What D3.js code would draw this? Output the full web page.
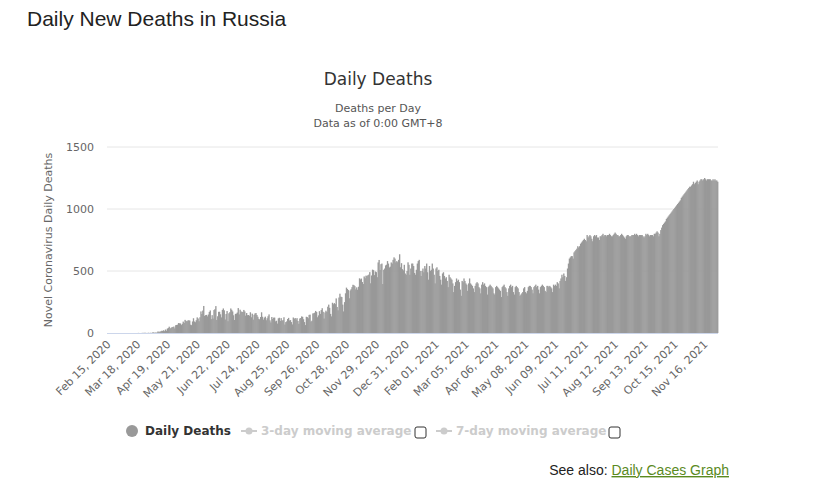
<!DOCTYPE html>
<html><head><meta charset="utf-8">
<script src="https://cdn.jsdelivr.net/npm/d3@7"></script>
<style>
body{margin:0;background:#fff;font-family:"Liberation Sans",Arial,sans-serif}
svg text{font-family:"DejaVu Sans",sans-serif}
</style></head><body>
<svg id="c" width="813" height="492"></svg>
<script>
// daily deaths per month, starting Feb 15, 2020
var feb20 = d3.range(15).map(function(){ return 0; });
var mar20 = [0,0,0,0,0,0,0,0,0,0,0,0,0,0,0,0,0,0,1,0,0,0,1,1,1,2,1,0,1,2,0];
var apr20 = [2,0,4,5,2,4,2,5,13,7,12,13,18,17,22,15,28,18,35,40,51,37,42,47,49,52,37,63,65,67];
var may20 = [80,78,77,64,74,92,81,106,98,94,101,103,100,67,63,93,119,93,87,103,126,117,95,127,174,153,181,218,138,144,146];
var jun20 = [134,149,170,182,112,144,116,185,192,217,105,135,171,171,151,126,186,198,183,109,153,177,95,159,168,198,187,174,143,105];
var jul20 = [154,156,165,201,150,188,173,171,169,186,174,140,161,144,145,139,167,127,156,108,147,158,161,145,131,114,110,129,167,131,108];
var aug20 = [124,132,103,119,135,150,102,85,129,113,124,124,94,99,76,118,123,97,120,100,104,127,68,88,94,113,122,101,104,88,69];
var sep20 = [125,114,121,109,120,97,74,117,121,134,130,111,88,64,131,128,119,146,148,92,99,158,159,164,178,169,127,142,176,154];
var oct20 = [185,200,171,117,166,180,170,212,229,203,154,134,244,232,241,233,279,210,183,286,317,293,290,229,174,249,320,366,355,346,280];
var nov20 = [343,353,370,389,386,378,352,368,349,373,441,432,439,411,395,456,442,463,459,466,471,491,401,464,511,507,467,496,491,450];
var dec20 = [569,589,508,555,560,395,510,520,545,551,580,560,528,535,569,560,590,610,600,570,580,571,590,635,530,563,515,505,550,480,470];
var jan21 = [500,570,550,470,520,560,560,540,485,470,510,560,580,590,500,460,500,520,490,540,520,560,490,430,540,500,510,560,520,470,400];
var feb21 = [520,530,500,510,460,430,390,480,490,460,440,450,420,370,470,450,440,430,400,330,380,410,440,420,430,410,350,300];
var mar21 = [420,410,440,420,400,390,340,400,440,400,390,380,360,330,380,400,410,400,370,360,320,390,410,390,400,380,370,310,370,380,390];
var apr21 = [380,370,360,320,310,370,380,370,360,350,340,290,370,380,390,370,360,330,300,360,380,390,370,380,330,310,370,380,370,360];
var may21 = [330,300,310,320,330,360,370,330,320,340,370,380,380,370,350,320,370,380,390,370,380,350,320,370,380,390,380,370,340,330,380];
var jun21 = [380,370,380,370,360,330,390,380,390,380,410,400,360,420,440,470,450,480,460,420,450,520,560,600,610,620,620,600,650,660];
var jul21 = [670,680,700,690,700,720,730,740,750,760,750,740,790,770,780,790,780,760,740,780,790,780,790,770,770,750,780,780,790,800,780];
var aug21 = [790,790,780,790,790,800,790,780,780,790,800,810,800,790,790,780,780,790,800,790,780,770,760,780,790,790,780,780,780,790,790];
var sep21 = [790,800,790,800,790,780,790,790,790,790,780,770,780,800,790,800,790,780,790,790,790,780,800,800,810,820,810,780,800,830];
var oct21 = [850,870,880,890,900,920,930,940,950,960,970,980,990,1000,1010,1020,1030,1040,1050,1060,1070,1090,1100,1110,1120,1130,1140,1150,1160,1170,1180];
var nov21 = [1180,1190,1200,1220,1200,1210,1220,1230,1200,1220,1230,1240,1240,1230,1240,1250,1240,1230,1240,1240,1240,1240,1230,1230,1240,1230,1240,1230,1230,1220];
var yTicks = [0, 500, 1000, 1500];

var values = [].concat(feb20,mar20,apr20,may20,jun20,jul20,aug20,sep20,oct20,nov20,dec20,
  jan21,feb21,mar21,apr21,may21,jun21,jul21,aug21,sep21,oct21,nov21);
var start = new Date(2020, 1, 15);
var data = values.map(function(v, i){ return {date: d3.timeDay.offset(start, i), v: v, i: i}; });

var svg = d3.select("#c");
var L = 107, R = 718, T = 147, B = 333;

var x = d3.scaleBand().domain(d3.range(values.length)).range([L, R]).padding(0);
var y = d3.scaleLinear().domain([0, 1500]).range([B, T]);

svg.append("text").attr("x", 27).attr("y", 26).attr("font-size", 21).attr("fill", "#222")
  .style("font-family", "Liberation Sans, Arial, sans-serif").text("Daily New Deaths in Russia");
svg.append("text").attr("x", 378).attr("y", 85).attr("text-anchor", "middle").attr("font-size", 17).attr("fill", "#333").text("Daily Deaths");
svg.append("text").attr("x", 378).attr("y", 112).attr("text-anchor", "middle").attr("font-size", 11).attr("fill", "#555").text("Deaths per Day");
svg.append("text").attr("x", 378).attr("y", 127).attr("text-anchor", "middle").attr("font-size", 11).attr("fill", "#555").text("Data as of 0:00 GMT+8");

// gridlines + y labels
yTicks.forEach(function(t){
  if (t > 0) svg.append("line").attr("x1", L).attr("x2", R).attr("y1", y(t)).attr("y2", y(t)).attr("stroke", "#e6e6e6");
  svg.append("text").attr("x", 94).attr("y", y(t) + 4).attr("text-anchor", "end").attr("font-size", 11).attr("fill", "#666").text(t);
});
svg.append("text").attr("transform", "translate(52," + (T + B) / 2 + ") rotate(-90)").attr("text-anchor", "middle")
  .attr("font-size", 11).attr("fill", "#666").text("Novel Coronavirus Daily Deaths");

svg.append("g").selectAll("rect").data(data).enter().append("rect")
  .attr("x", function(d){ return x(d.i); }).attr("width", x.bandwidth() + 0.4)
  .attr("y", function(d){ return y(d.v); }).attr("height", function(d){ return B - y(d.v); })
  .attr("fill", "#999");

svg.append("line").attr("x1", L).attr("x2", R).attr("y1", B + 0.5).attr("y2", B + 0.5).attr("stroke", "#ccd6eb");

// x labels every 32 days
var fmt = d3.timeFormat("%b %d, %Y");
data.filter(function(d){ return d.i % 32 === 0; }).forEach(function(d){
  var px = x(d.i) + x.bandwidth() / 2;
  svg.append("text").attr("transform", "translate(" + (px + 4) + "," + (B + 12) + ") rotate(-45)")
    .attr("text-anchor", "end").attr("font-size", 11).attr("fill", "#666").text(fmt(d.date).replace(/^(\w+) 0?(\d)/, function(m, a, b){ return m; }));
});

// legend
var lg = svg.append("g").attr("font-size", 12).attr("font-weight", "bold");
lg.append("circle").attr("cx", 132).attr("cy", 431).attr("r", 6).attr("fill", "#999");
lg.append("text").attr("x", 145).attr("y", 435).attr("fill", "#333").text("Daily Deaths");
function avgItem(x0, label, bx){
  lg.append("line").attr("x1", x0).attr("x2", x0 + 16).attr("y1", 431).attr("y2", 431).attr("stroke", "#ccc").attr("stroke-width", 2);
  lg.append("circle").attr("cx", x0 + 8).attr("cy", 431).attr("r", 3.5).attr("fill", "#ccc");
  lg.append("text").attr("x", x0 + 20).attr("y", 435).attr("fill", "#ccc").text(label);
  lg.append("rect").attr("x", bx).attr("y", 427).attr("width", 11).attr("height", 11).attr("rx", 2).attr("fill", "#fff").attr("stroke", "#333");
}
avgItem(241, "3-day moving average", 415);
avgItem(436, "7-day moving average", 609);

var sa = svg.append("text").attr("x", 729).attr("y", 475).attr("text-anchor", "end").attr("font-size", 14)
  .style("font-family", "Liberation Sans, Arial, sans-serif");
sa.append("tspan").attr("fill", "#222").text("See also: ");
sa.append("tspan").attr("fill", "#5a8a1e").attr("text-decoration", "underline").text("Daily Cases Graph");
</script>
</body></html>
